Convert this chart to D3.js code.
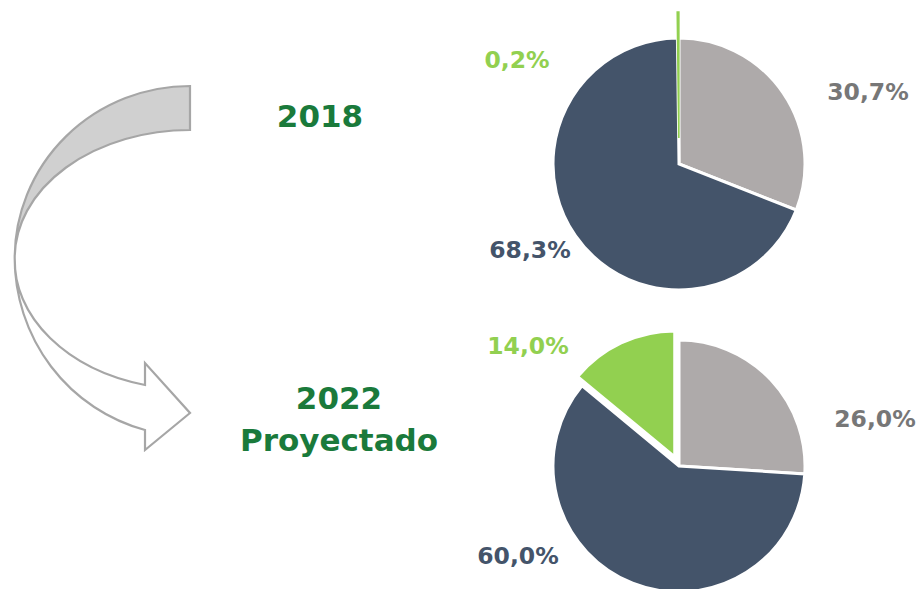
<!DOCTYPE html>
<html>
<head>
<meta charset="utf-8">
<script src="https://cdn.jsdelivr.net/npm/d3@7"></script>
<style>
  html, body { margin: 0; padding: 0; background: #fff; }
  svg { display: block; }
</style>
</head>
<body>
<svg id="chart" width="922" height="589"></svg>
<script>
// ---- data ----
const categories = ["Gris", "Azul", "Verde"];
const values2018 = [30.7, 68.3, 0.2];
const values2022 = [26.0, 60.0, 14.0];
const labels2018 = ["30,7%", "68,3%", "0,2%"];
const labels2022 = ["26,0%", "60,0%", "14,0%"];
const titles2018 = ["2018"];
const titles2022 = ["2022", "Proyectado"];

// ---- styles / layout ----
const sliceColors = ["#AEAAAA", "#44546A", "#92D050"];
const labelColors = ["#777777", "#44546A", "#92D050"];
const titleColor = "#1A7A3B";
const font = "'DejaVu Sans', sans-serif";

const svg = d3.select("#chart");
const R = 126;

const colorScale = d3.scaleOrdinal().domain(categories).range(sliceColors);
const labelColorScale = d3.scaleOrdinal().domain(categories).range(labelColors);

const pie = d3.pie().sort(null).value(d => d.v);
const arc = d3.arc().innerRadius(0).outerRadius(R);

function drawPie(cx, cy, values, labels, explode, labelPos) {
  const data = categories.map((c, i) => ({ c, v: values[i], l: labels[i] }));
  const arcs = pie(data);
  const g = svg.append("g").attr("transform", `translate(${cx},${cy})`);
  g.selectAll("path").data(arcs).join("path")
    .attr("d", arc)
    .attr("transform", (d, i) => {
      const e = explode[i];
      const a = (d.startAngle + d.endAngle) / 2;
      return `translate(${e * Math.sin(a)},${-e * Math.cos(a)})`;
    })
    .attr("fill", d => colorScale(d.data.c))
    .attr("stroke", d => (d.endAngle - d.startAngle) < 0.05 ? colorScale(d.data.c) : "#fff")
    .attr("stroke-width", d => (d.endAngle - d.startAngle) < 0.05 ? 1.6 : 3)
    .attr("stroke-linejoin", "miter");
  svg.append("g").selectAll("text").data(arcs).join("text")
    .attr("x", (d, i) => labelPos[i][0])
    .attr("y", (d, i) => labelPos[i][1])
    .attr("text-anchor", "middle")
    .attr("font-family", font)
    .attr("font-weight", "bold")
    .attr("font-size", 23.5)
    .attr("fill", d => labelColorScale(d.data.c))
    .text(d => d.data.l);
}

drawPie(679, 164, values2018, labels2018, [0, 0, 26], [[868, 100], [530, 258], [517, 68]]);
drawPie(679, 466, values2022, labels2022, [0, 0, 10], [[875, 427], [518, 564], [528, 354]]);

// ---- titles ----
svg.append("text").attr("x", 320).attr("y", 127)
  .attr("text-anchor", "middle").attr("font-family", font).attr("font-weight", "bold")
  .attr("font-size", 31).attr("fill", titleColor).text(titles2018[0]);
svg.append("g").selectAll("text").data(titles2022).join("text")
  .attr("x", 339).attr("y", (d, i) => 409 + i * 42)
  .attr("text-anchor", "middle").attr("font-family", font).attr("font-weight", "bold")
  .attr("font-size", 31).attr("fill", titleColor).text(d => d);

// ---- curved arrow (decoration) ----
const ax = 190, ay = 258, rx = 175.3;
const xl = ax - rx;
const arrow = svg.append("g").attr("stroke", "#A6A6A6").attr("stroke-width", 2.2).attr("stroke-linejoin", "miter");
// lower white part with arrow head
arrow.append("path")
  .attr("fill", "#fff")
  .attr("d", `M${xl},${ay} A${rx},178 0 0 0 145,430 L145,450 L190,413 L145,363 L145,385 A${rx},129 0 0 1 ${xl},${ay} Z`);
// upper shaded band
arrow.append("path")
  .attr("fill", "#D0D0D0")
  .attr("d", `M190,86 A${rx},172 0 0 0 ${xl},${ay} A${rx},128 0 0 1 190,130 Z`);
</script>
</body>
</html>
